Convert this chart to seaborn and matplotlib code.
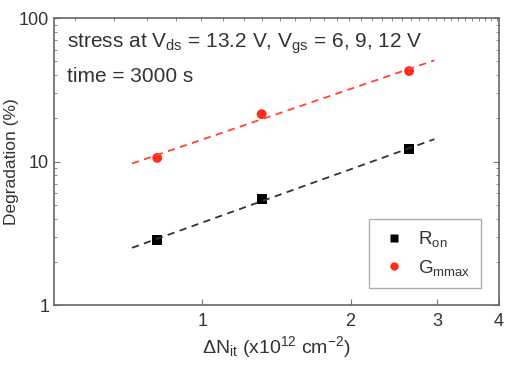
import numpy as np
import pandas as pd
import matplotlib
matplotlib.use("Agg")
import matplotlib.pyplot as plt
import seaborn as sns
from matplotlib.ticker import FixedLocator, FixedFormatter, LogLocator, NullFormatter

sns.set_style("ticks")
plt.rcParams['font.family'] = ['Liberation Sans', 'DejaVu Sans']
plt.rcParams['mathtext.fontset'] = 'custom'
plt.rcParams['mathtext.rm'] = 'Liberation Sans'
plt.rcParams['mathtext.it'] = 'Liberation Sans'

dNit = [0.81, 1.32, 2.63]
ron = [2.84, 5.48, 12.2]
gmmax = [10.6, 21.4, 42.7]
fit_range = [0.72, 2.96]
xticks = [1, 2, 3, 4]
yticks = [1, 10, 100]

df = pd.DataFrame({"x": dNit * 2, "y": ron + gmmax,
                   "s": ["Ron"] * 3 + ["Gmmax"] * 3})

fig, ax = plt.subplots(figsize=(5.1, 3.68), dpi=100)
fig.subplots_adjust(left=0.106, right=0.978, top=0.951, bottom=0.171)

xf = np.array(fit_range)
for vals, col in [(ron, "#333333"), (gmmax, "#ff4433")]:
    k, b = np.polyfit(np.log10(dNit), np.log10(vals), 1)
    yf = 10 ** (k * np.log10(xf) + b)
    sns.lineplot(x=xf, y=yf, ax=ax, color=col, lw=1.3, linestyle=(0, (4, 3)), legend=False)

sns.scatterplot(data=df, x="x", y="y", hue="s", style="s",
                palette={"Ron": "black", "Gmmax": "#ff2a1a"},
                markers={"Ron": "s", "Gmmax": "o"}, s=50, edgecolor="none", ax=ax)

ax.set_xscale("log")
ax.set_yscale("log")
ax.set_xlim(0.5, 4)
ax.set_ylim(1, 100)
ax.xaxis.set_major_locator(FixedLocator(xticks))
ax.xaxis.set_major_formatter(FixedFormatter([str(t) for t in xticks]))
ax.xaxis.set_minor_locator(FixedLocator(1.104 * np.arange(0.5, 3.62, 0.1)))
ax.xaxis.set_minor_formatter(NullFormatter())
ax.yaxis.set_major_locator(FixedLocator(yticks))
ax.yaxis.set_major_formatter(FixedFormatter([str(t) for t in yticks]))
ax.yaxis.set_minor_locator(LogLocator(base=10, subs=np.arange(2, 10)))
ax.yaxis.set_minor_formatter(NullFormatter())

tc = "#333333"
for sp in ax.spines.values():
    sp.set_color("#666666")
    sp.set_linewidth(1.2)
ax.tick_params(which="both", direction="in", right=True, colors="#777777",
               labelcolor=tc, labelsize=13)
ax.tick_params(axis="x", which="major", top=False, bottom=True, pad=6)
ax.tick_params(axis="x", which="minor", top=True, bottom=False)
ax.tick_params(which="major", length=4)
ax.tick_params(which="minor", length=2.5)

ax.set_xlabel(r"$\Delta$N$_{\rm it}$ (x10$^{12}$ cm$^{-2}$)", fontsize=14, color=tc, labelpad=3)
ax.set_ylabel("Degradation (%)", fontsize=12.5, color=tc, labelpad=0)

ax.text(0.03, 0.895, r"stress at V$_{\rm ds}$ = 13.2 V, V$_{\rm gs}$ = 6, 9, 12 V",
        transform=ax.transAxes, fontsize=15, color=tc)
ax.text(0.03, 0.777, "time = 3000 s", transform=ax.transAxes, fontsize=15, color=tc)

h, l = ax.get_legend_handles_labels()
leg = ax.legend(h, [r"R$_{\rm on}$", r"G$_{\rm mmax}$"], loc="lower right",
                bbox_to_anchor=(0.96, 0.059), borderaxespad=0, fontsize=13.5,
                frameon=True, fancybox=False, markerscale=0.85,
                handletextpad=0.5, borderpad=0.55, labelspacing=0.45, handlelength=1.6)
leg.get_frame().set_edgecolor("#999999")
for t in leg.get_texts():
    t.set_color(tc)

fig.savefig("out.png", dpi=100)
